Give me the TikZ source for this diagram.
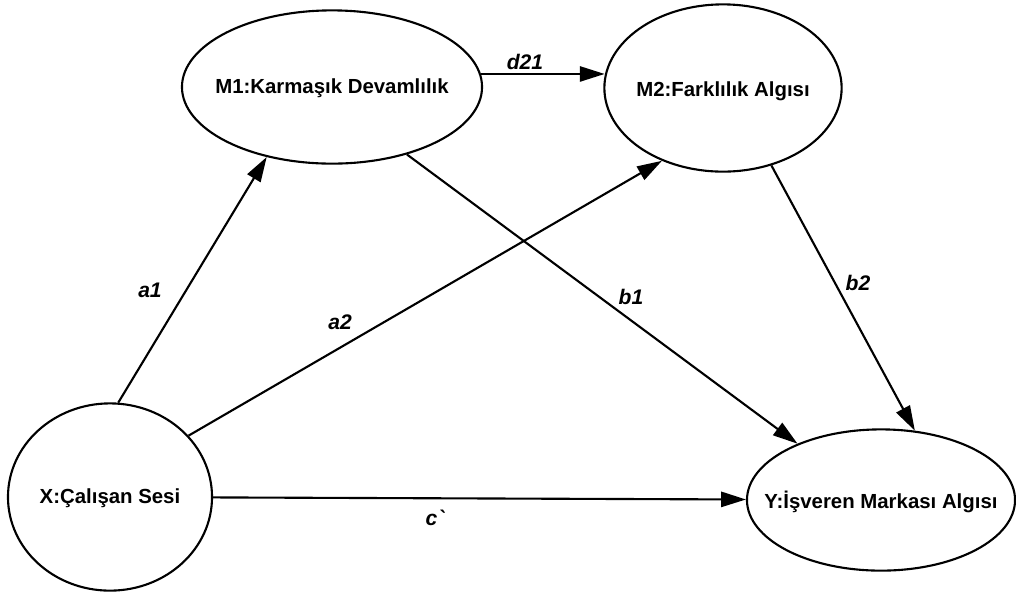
\documentclass[tikz,border=0pt]{standalone}
\usepackage{fontspec}
\setmainfont{Liberation Sans}
\usetikzlibrary{shapes.geometric,arrows.meta}

\tikzset{
  var/.style={ellipse, draw, line width=1.5pt, inner sep=0pt},
  vartext/.style={font=\fontsize{14.5}{16}\selectfont\bfseries},
  lbl/.style={font=\fontsize{15}{17}\selectfont\bfseries\itshape},
  conn/.style={-{Triangle[length=0.62cm,width=0.38cm]}, line width=1.5pt}
}

\begin{document}
\begin{tikzpicture}[x=0.025cm, y=-0.025cm]
\useasboundingbox (0,0) rectangle (1016,595);
% variables
\node[var, minimum width=7.5cm, minimum height=3.83cm] (M1) at (332,87) {};
\node[var, minimum width=5.93cm, minimum height=4.18cm] (M2) at (723,88) {};
\node[var, minimum width=5.1cm, minimum height=4.68cm] (X) at (110,497) {};
\node[var, minimum width=6.7cm, minimum height=3.53cm] (Y) at (881,500) {};
\node[vartext] (M1t) at (332,88) {M1:Karmaşık Devamlılık};
\node[vartext] (M2t) at (723,91) {M2:Farklılık Algısı};
\node[vartext] (Xt) at (110,498) {X:Çalışan Sesi};
\node[vartext] (Yt) at (881,502) {Y:İşveren Markası Algısı};
% paths
\draw[conn] (X.85) -- (M1.227);
\draw[conn] (X.38) -- (M2.230);
\draw[conn] (M1.5) -- (M1.5 -| M2.174);
\draw[conn] (M1.318) -- (Y.146);
\draw[conn] (M2.302) -- (Y.64);
\draw[conn] (X) -- (Y);
% labels
\node[lbl] (la1) at (150,290) {a1};
\node[lbl] (la2) at (340,322) {a2};
\node[lbl] (lb1) at (631,297) {b1};
\node[lbl] (lb2) at (858,283) {b2};
\node[lbl] (ld21) at (525,62) {d21};
\node[lbl] (lc) at (435,518) {c\textasciigrave};
\end{tikzpicture}
\end{document}
